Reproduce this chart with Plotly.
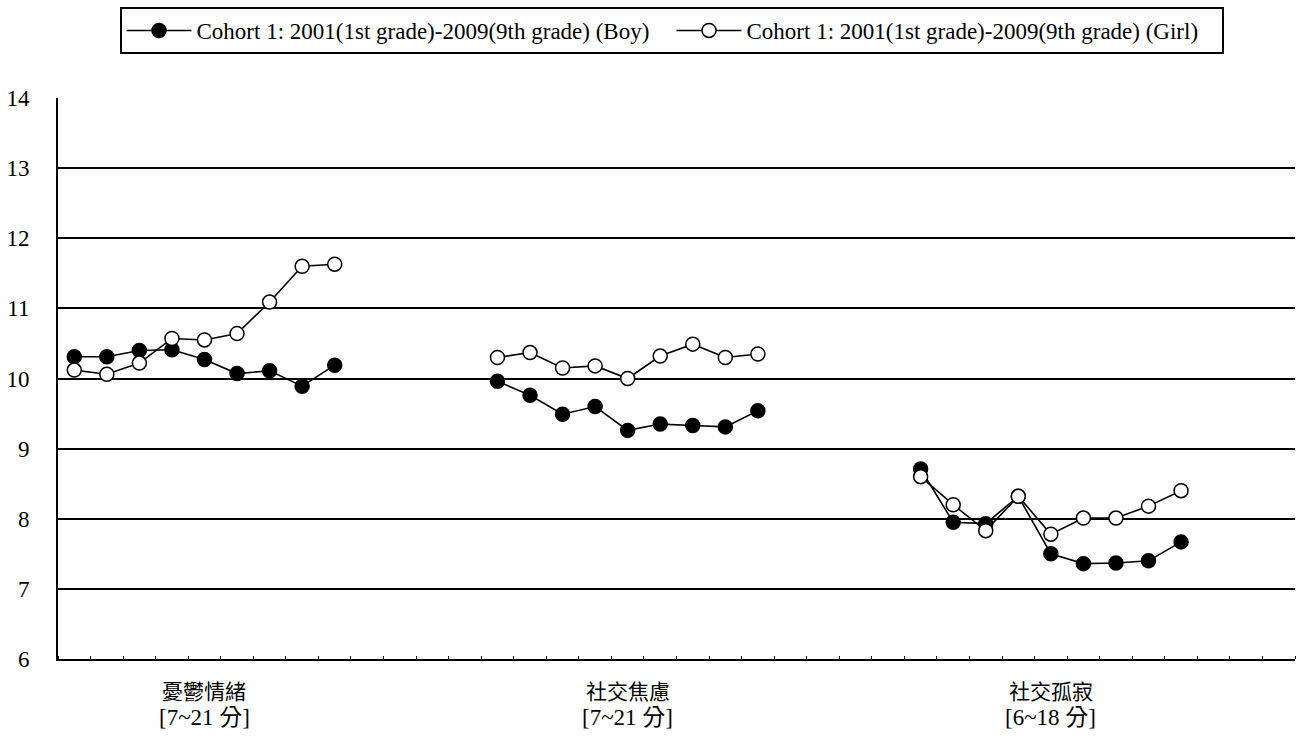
import plotly.graph_objects as go

# ---- data ----
category_names = ["憂鬱情緒", "社交焦慮", "社交孤寂"]
category_ranges = ["[7~21 分]", "[7~21 分]", "[6~18 分]"]
y_ticks = [6, 7, 8, 9, 10, 11, 12, 13, 14]

boy_depression = [10.31, 10.31, 10.40, 10.41, 10.27, 10.07, 10.11, 9.89, 10.19]
boy_anxiety = [9.96, 9.76, 9.49, 9.60, 9.26, 9.35, 9.33, 9.31, 9.54]
boy_loneliness = [8.71, 7.95, 7.93, 8.32, 7.50, 7.36, 7.37, 7.40, 7.67]

girl_depression = [10.12, 10.06, 10.22, 10.57, 10.55, 10.64, 11.09, 11.60, 11.63]
girl_anxiety = [10.30, 10.37, 10.15, 10.18, 10.00, 10.32, 10.49, 10.30, 10.35]
girl_loneliness = [8.60, 8.20, 7.83, 8.32, 7.78, 8.01, 8.01, 8.18, 8.40]

boy_name = "Cohort 1: 2001(1st grade)-2009(9th grade) (Boy)"
girl_name = "Cohort 1: 2001(1st grade)-2009(9th grade) (Girl)"

# ---- layout of slots ----
n_points = 9
group_gap = 4
group_step = n_points + group_gap
n_slots = 3 * n_points + 2 * group_gap + 3  # 38 slots

SERIF = "Liberation Serif"
W, H = 1301, 738
M_L, M_R, M_T, M_B = 58, 6, 98, 79
plot_h = H - M_T - M_B


def build(groups):
    xs, ys = [], []
    for g, vals in enumerate(groups):
        start = g * group_step
        for i, v in enumerate(vals):
            xs.append(start + i)
            ys.append(v)
        xs.append(None)
        ys.append(None)
    return xs, ys


bx, by = build([boy_depression, boy_anxiety, boy_loneliness])
gx, gy = build([girl_depression, girl_anxiety, girl_loneliness])

fig = go.Figure()
fig.add_trace(go.Scatter(
    x=bx, y=by, name=boy_name, mode="lines+markers",
    line=dict(color="black", width=1.6),
    marker=dict(symbol="circle", size=14, color="black", line=dict(color="black", width=1.5)),
    connectgaps=False,
))
fig.add_trace(go.Scatter(
    x=gx, y=gy, name=girl_name, mode="lines+markers",
    line=dict(color="black", width=1.6),
    marker=dict(symbol="circle", size=14, color="white", line=dict(color="black", width=1.5)),
    connectgaps=False,
))

label_pos = [g * group_step + (n_points - 1) / 2 for g in range(3)]

# category labels below the axis (two lines each)
for xp, name, rng in zip(label_pos, category_names, category_ranges):
    fig.add_annotation(
        x=xp, xref="x", y=-(690 - (H - M_B)) / plot_h, yref="paper",
        text=name, showarrow=False, xanchor="center", yanchor="middle",
        font=dict(size=21, family="Noto Sans CJK TC", color="black"),
    )
    fig.add_annotation(
        x=xp, xref="x", y=-(717 - (H - M_B)) / plot_h, yref="paper",
        text=rng, showarrow=False, xanchor="center", yanchor="middle",
        font=dict(size=23, family=SERIF + ", Noto Sans CJK TC", color="black"),
    )

fig.update_layout(
    width=W, height=H,
    paper_bgcolor="white", plot_bgcolor="white",
    margin=dict(l=M_L, r=M_R, t=M_T, b=M_B),
    font=dict(family=SERIF, color="black"),
    showlegend=True,
    legend=dict(
        orientation="h", x=671.5 / W, xanchor="center", xref="container",
        y=1 - 7 / H, yanchor="top", yref="container",
        bordercolor="black", borderwidth=2, bgcolor="white",
        font=dict(size=23, family=SERIF, color="black"),
        itemwidth=65, entrywidth=470, entrywidthmode="pixels",
    ),
    xaxis=dict(
        range=[-0.5, n_slots - 0.5],
        showticklabels=False, ticks="", showgrid=False, zeroline=False,
        showline=True, linecolor="black", linewidth=2,
        minor=dict(tick0=0.5, dtick=1, ticks="inside", ticklen=3, tickcolor="black", tickwidth=1, showgrid=False),
        fixedrange=True,
    ),
    yaxis=dict(
        range=[6, 14], tickmode="array", tickvals=y_ticks,
        showgrid=True, gridcolor="black", gridwidth=1.8,
        zeroline=False, showline=True, linecolor="black", linewidth=2,
        ticks="", tickfont=dict(size=23, family=SERIF, color="black"),
        ticklabelstandoff=22, fixedrange=True,
    ),
)

fig.write_html("out.html", config={"displayModeBar": False},
               post_script="document.body.style.margin='0px';")
